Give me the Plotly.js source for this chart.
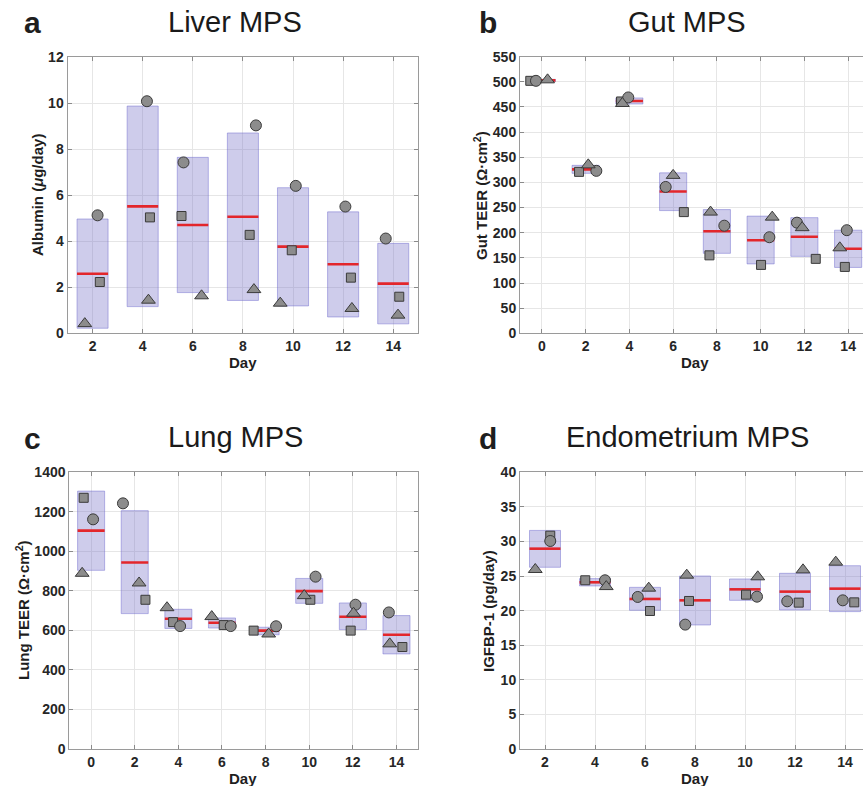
<!DOCTYPE html>
<html><head><meta charset="utf-8">
<script src="https://cdn.plot.ly/plotly-3.0.1.min.js"></script>
<style>html,body{margin:0;padding:0;overflow:hidden;background:#fff;width:863px;height:786px}#chart{width:880px;height:786px}</style>
</head><body><div id="chart"></div>
<script>
// ---- Panel a: Liver MPS (Albumin, µg/day) ----
const liverDays = [2,4,6,8,10,12,14];
const liverMean = [2.59,5.52,4.71,5.07,3.77,3.00,2.16];
const liverLo   = [0.22,1.16,1.77,1.43,1.19,0.71,0.41];
const liverHi   = [4.97,9.88,7.65,8.71,6.33,5.28,3.91];
const liverCircX = [2.20,4.17,5.63,8.52,10.11,12.09,13.70];
const liverCircY = [5.13,10.09,7.43,9.04,6.41,5.51,4.12];
const liverSqX   = [2.29,4.29,5.55,8.27,9.95,12.31,14.24];
const liverSqY   = [2.23,5.04,5.10,4.28,3.61,2.42,1.59];
const liverTriX  = [1.69,4.23,6.35,8.44,9.49,12.35,14.19];
const liverTriY  = [0.42,1.44,1.63,1.90,1.31,1.08,0.79];

// ---- Panel b: Gut MPS (TEER) ----
const gutDays = [0,2,4,6,8,10,12,14];
const gutMean = [503,326,462,282,203,185,192,168];
const gutLo   = [500.5,318,456,244,159,138,153,131];
const gutHi   = [505,334,468,319,246,233,230,205];
const gutCircX = [-0.27,2.49,3.95,5.66,8.34,10.40,11.66,13.94];
const gutCircY = [502,323,469,291,214,191,220,205];
const gutSqX   = [-0.53,1.70,3.62,6.49,7.66,10.02,12.52,13.85];
const gutSqY   = [502,321,461,241,155,136,148,132];
const gutTriX  = [0.26,2.12,3.68,6.00,7.71,10.53,11.90,13.62];
const gutTriY  = [504,335,457,314,241,231,210,170];

// ---- Panel c: Lung MPS (TEER) ----
const lungDays = [0,2,4,6,8,10,12,14];
const lungMean = [1105,944,659,639,599,799,669,578];
const lungLo   = [904,685,610,612,578,737,604,481];
const lungHi   = [1305,1206,707,663,616,863,739,675];
const lungCircX = [0.09,1.46,4.08,6.40,8.48,10.29,12.12,13.65];
const lungCircY = [1162,1243,622,622,621,872,730,691];
const lungSqX   = [-0.34,2.49,3.76,6.08,7.45,10.05,11.90,14.27];
const lungSqY   = [1271,755,642,627,599,755,599,516];
const lungTriX  = [-0.41,2.20,3.48,5.53,8.14,9.77,12.03,13.69];
const lungTriY  = [889,840,715,670,582,776,687,532];

// ---- Panel d: Endometrium MPS (IGFBP-1, pg/day) ----
const endoDays = [2,4,6,8,10,12,14];
const endoMean = [28.96,24.10,21.69,21.49,23.08,22.75,23.18];
const endoLo   = [26.27,23.57,20.05,17.93,21.49,20.10,19.86];
const endoHi   = [31.60,24.63,23.37,25.01,24.58,25.40,26.50];
const endoCircX = [2.21,4.40,5.71,7.61,10.48,11.69,13.91];
const endoCircY = [30.07,24.39,21.98,17.98,22.02,21.35,21.49];
const endoSqX   = [2.21,3.61,6.20,7.76,10.04,12.15,14.37];
const endoSqY   = [30.84,24.39,19.95,21.40,22.31,21.16,21.20];
const endoTriX  = [1.61,4.45,6.15,7.67,10.51,12.32,13.63];
const endoTriY  = [25.95,23.48,23.25,25.13,24.89,25.90,27.01];

const W = 880, H = 786;
const BOXW = 1.24;
const FONT = '"Liberation Sans", Arial, Helvetica, sans-serif';

const panels = [
  {ax:'', days:liverDays, mean:liverMean, lo:liverLo, hi:liverHi,
   cx:liverCircX, cy:liverCircY, sx:liverSqX, sy:liverSqY, tx:liverTriX, ty:liverTriY},
  {ax:'2', days:gutDays, mean:gutMean, lo:gutLo, hi:gutHi,
   cx:gutCircX, cy:gutCircY, sx:gutSqX, sy:gutSqY, tx:gutTriX, ty:gutTriY},
  {ax:'3', days:lungDays, mean:lungMean, lo:lungLo, hi:lungHi,
   cx:lungCircX, cy:lungCircY, sx:lungSqX, sy:lungSqY, tx:lungTriX, ty:lungTriY},
  {ax:'4', days:endoDays, mean:endoMean, lo:endoLo, hi:endoHi,
   cx:endoCircX, cy:endoCircY, sx:endoSqX, sy:endoSqY, tx:endoTriX, ty:endoTriY}
];

const mk = {color:'#8c8c8c', line:{color:'#3a3a3a', width:1}};
const traces = [];
panels.forEach(p => {
  const xa = 'x'+p.ax, ya = 'y'+p.ax;
  traces.push({type:'bar', x:p.days, base:p.lo, y:p.hi.map((h,i)=>h-p.lo[i]),
    width:BOXW, xaxis:xa, yaxis:ya, hoverinfo:'skip',
    marker:{color:'rgba(118,113,200,0.36)', line:{color:'rgba(105,100,205,0.45)', width:1}}});
  const lx = [], ly = [];
  p.days.forEach((d,i)=>{ lx.push(d-BOXW/2, d+BOXW/2, null); ly.push(p.mean[i], p.mean[i], null); });
  traces.push({type:'scatter', mode:'lines', x:lx, y:ly, xaxis:xa, yaxis:ya,
    line:{color:'#e3262b', width:2.6}, hoverinfo:'skip'});
  traces.push({type:'scatter', mode:'markers', x:p.sx, y:p.sy, xaxis:xa, yaxis:ya,
    marker:Object.assign({symbol:'square', size:9}, mk), hoverinfo:'skip'});
  traces.push({type:'scatter', mode:'markers', x:p.cx, y:p.cy, xaxis:xa, yaxis:ya,
    marker:Object.assign({symbol:'circle', size:11}, mk), hoverinfo:'skip'});
  traces.push({type:'scatter', mode:'markers', x:p.tx, y:p.ty, xaxis:xa, yaxis:ya,
    marker:Object.assign({symbol:'triangle-up', size:12}, mk), hoverinfo:'skip'});
});

function ax(domain, range, dtick, tick0, anchor) {
  return {domain:domain, range:range, dtick:dtick, tick0:tick0, anchor:anchor,
    showline:true, mirror:'ticks', linecolor:'#9a9a9a', linewidth:1,
    ticks:'inside', ticklen:4, tickcolor:'#8a8a8a',
    showgrid:true, gridcolor:'#e6e6e6', gridwidth:1, zeroline:false,
    tickfont:{family:FONT, size:14, color:'#262626', weight:'bold'},
    fixedrange:true};
}
const xd = (a,b)=>[a/W, b/W];
const yd = (top,bot)=>[1-bot/H, 1-top/H];

function ann(text, px, py, size, bold, angle) {
  return {text:text, xref:'paper', yref:'paper', x:px/W, y:1-py/H,
    xanchor:'center', yanchor:'middle', showarrow:false, textangle:angle||0,
    font:{family:FONT, size:size, color:bold?'#1e1e1e':'#1a1a1a', weight:bold?'bold':'normal'}};
}

const layout = {
  width:W, height:H, margin:{l:0,r:0,t:0,b:0},
  paper_bgcolor:'#fff', plot_bgcolor:'#fff', showlegend:false, barmode:'overlay',
  xaxis:  ax(xd(67.5,418.3), [1,15], 2, 2, 'y'),
  yaxis:  ax(yd(57.3,333.3), [0,12], 2, 0, 'x'),
  xaxis2: ax(xd(520,870), [-1,15], 2, 0, 'y2'),
  yaxis2: ax(yd(56.7,333.3), [0,550], 50, 0, 'x2'),
  xaxis3: ax(xd(69.3,418.3), [-1,15], 2, 0, 'y3'),
  yaxis3: ax(yd(472.3,749), [0,1400], 200, 0, 'x3'),
  xaxis4: ax(xd(520,870), [1,15], 2, 2, 'y4'),
  yaxis4: ax(yd(472.3,749), [0,40], 5, 0, 'x4'),
  annotations: [
    ann('a', 32, 23, 30, true), ann('Liver MPS', 235, 22, 29, false),
    ann('b', 488, 23, 30, true), ann('Gut MPS', 687, 22, 29, false),
    ann('c', 32, 438, 30, true), ann('Lung MPS', 235, 437, 29, false),
    ann('d', 488, 438, 30, true), ann('Endometrium MPS', 687, 437, 29, false),
    ann('Albumin (<i>μ</i>g/day)', 37, 195, 15, true, -90),
    ann('Gut TEER (Ω·cm<sup>2</sup>)', 480, 195, 15, true, -90),
    ann('Lung TEER (Ω·cm<sup>2</sup>)', 22, 610, 15, true, -90),
    ann('IGFBP-1 (pg/day)', 488, 611, 15, true, -90),
    ann('Day', 243, 362, 15, true), ann('Day', 695, 362, 15, true),
    ann('Day', 243, 778, 15, true), ann('Day', 695, 778, 15, true)
  ]
};

Plotly.newPlot('chart', traces, layout, {staticPlot:true, displayModeBar:false});
</script>
</body></html>
